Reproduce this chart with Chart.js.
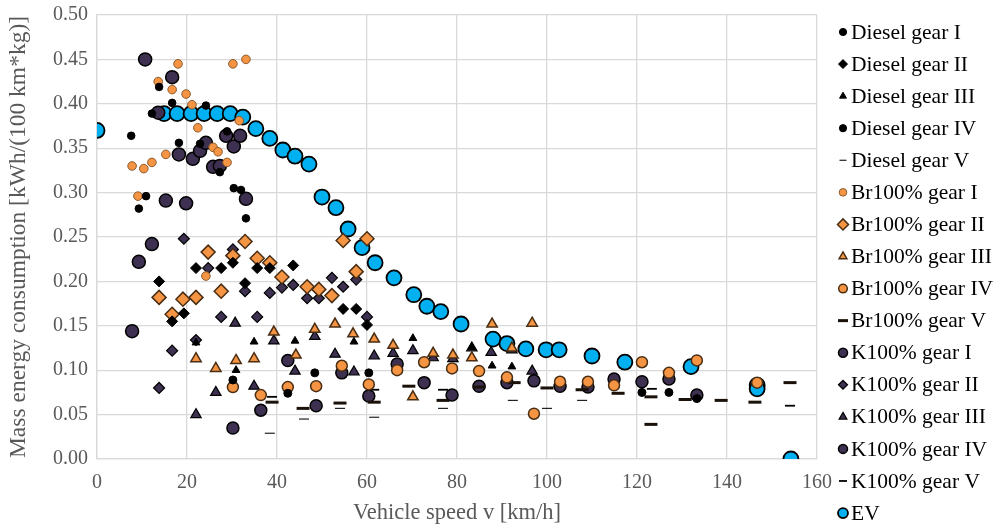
<!DOCTYPE html>
<html>
<head>
<meta charset="utf-8">
<script src="https://cdn.jsdelivr.net/npm/chart.js@4.4.1/dist/chart.umd.min.js"></script>
<style>
  html, body { margin: 0; padding: 0; background: #fff; }
  #wrap { width: 1001px; height: 529px; }
</style>
</head>
<body>
<div id="wrap"><canvas id="energyChart" width="1001" height="529"></canvas></div>
<script>
// speed [km/h] and mass energy consumption [kWh/(100 km*kg)] per series
const dieselG1Speed = [7.6, 9.3, 10.9, 12.2, 13.8, 16.7, 18.2, 22.9, 24.2, 27.3, 28.9, 30.4, 32.0, 33.1];
const dieselG1Cons  = [0.364, 0.282, 0.296, 0.389, 0.419, 0.401, 0.356, 0.355, 0.398, 0.323, 0.369, 0.305, 0.303, 0.271];

const dieselG2Speed = [13.8, 16.7, 19.3, 22.0, 27.6, 30.2, 32.9, 35.6, 38.4, 43.6, 54.7, 57.6, 60.0];
const dieselG2Cons  = [0.200, 0.155, 0.164, 0.215, 0.215, 0.221, 0.198, 0.215, 0.215, 0.218, 0.169, 0.169, 0.151];

const dieselG3Speed = [22.0, 30.9, 34.9, 44.0, 57.1, 70.2, 83.3, 87.8, 92.2];
const dieselG3Cons  = [0.131, 0.100, 0.132, 0.133, 0.132, 0.136, 0.126, 0.105, 0.104];

const dieselG4Speed = [30.2, 42.4, 48.4, 60.4, 121.1, 127.1, 133.3];
const dieselG4Cons  = [0.089, 0.074, 0.097, 0.097, 0.075, 0.075, 0.068];

const dieselG5Speed = [38.4, 46.0, 54.0, 61.6, 76.9, 92.4, 100.0, 107.8];
const dieselG5Cons  = [0.029, 0.045, 0.057, 0.047, 0.057, 0.066, 0.057, 0.066];

const brG1Speed = [7.8, 9.1, 10.4, 12.2, 13.6, 15.3, 16.7, 18.0, 19.8, 21.1, 22.4, 24.2, 25.8, 26.9, 28.9, 30.2, 31.6, 33.1];
const brG1Cons  = [0.330, 0.296, 0.327, 0.334, 0.425, 0.343, 0.416, 0.445, 0.411, 0.399, 0.373, 0.206, 0.351, 0.346, 0.334, 0.445, 0.381, 0.450];

const brG2Speed = [13.8, 16.7, 19.1, 22.0, 24.7, 27.6, 30.2, 32.9, 35.6, 38.4, 41.1, 46.7, 49.3, 52.2, 54.7, 57.6, 60.0];
const brG2Cons  = [0.182, 0.163, 0.180, 0.182, 0.233, 0.189, 0.229, 0.245, 0.226, 0.221, 0.205, 0.194, 0.191, 0.184, 0.246, 0.211, 0.248];

const brG3Speed = [22.0, 26.4, 30.9, 34.9, 39.3, 44.2, 48.4, 52.9, 56.9, 61.6, 65.8, 70.2, 74.7, 79.1, 83.3, 87.8, 92.2, 96.7];
const brG3Cons  = [0.113, 0.102, 0.111, 0.113, 0.143, 0.117, 0.146, 0.152, 0.141, 0.135, 0.128, 0.070, 0.119, 0.117, 0.114, 0.152, 0.125, 0.153];

const brG4Speed = [30.2, 36.4, 42.4, 48.7, 54.4, 60.4, 66.7, 72.7, 78.9, 84.9, 91.1, 97.1, 102.9, 109.1, 114.9, 121.1, 127.1, 133.3, 146.7];
const brG4Cons  = [0.081, 0.072, 0.081, 0.082, 0.105, 0.084, 0.100, 0.109, 0.102, 0.099, 0.092, 0.051, 0.087, 0.087, 0.083, 0.109, 0.097, 0.111, 0.086];

const brG5Speed = [38.9, 45.8, 54.0, 61.6, 69.3, 76.9, 84.9, 92.7, 100.0, 107.8, 115.8, 123.1, 123.1, 130.7, 138.7, 146.2, 154.0];
const brG5Cons  = [0.064, 0.057, 0.063, 0.064, 0.082, 0.066, 0.081, 0.086, 0.080, 0.078, 0.074, 0.070, 0.039, 0.067, 0.066, 0.064, 0.086];

const kG1Speed = [7.8, 9.3, 10.7, 12.2, 13.6, 15.3, 16.7, 18.2, 19.8, 21.3, 22.9, 24.2, 25.8, 27.3, 28.7, 30.4, 31.8, 33.1];
const kG1Cons  = [0.144, 0.222, 0.450, 0.242, 0.390, 0.291, 0.430, 0.343, 0.288, 0.338, 0.347, 0.356, 0.329, 0.330, 0.364, 0.352, 0.364, 0.293];

const kG2Speed = [13.8, 16.7, 19.3, 22.0, 24.7, 27.6, 30.2, 32.9, 35.6, 38.4, 41.1, 43.6, 46.7, 49.3, 52.2, 54.7, 57.6, 60.0];
const kG2Cons  = [0.080, 0.122, 0.248, 0.134, 0.215, 0.160, 0.236, 0.189, 0.160, 0.187, 0.193, 0.196, 0.181, 0.181, 0.204, 0.194, 0.202, 0.160];

const kG3Speed = [22.0, 26.4, 30.7, 34.9, 39.3, 44.0, 48.4, 52.9, 57.1, 61.6, 65.8, 70.2, 74.7, 79.1, 83.3, 87.6, 92.2, 96.7];
const kG3Cons  = [0.050, 0.075, 0.153, 0.082, 0.133, 0.099, 0.138, 0.118, 0.098, 0.116, 0.119, 0.122, 0.114, 0.113, 0.125, 0.120, 0.123, 0.099];

const kG4Speed = [30.2, 36.4, 42.4, 48.7, 54.4, 60.4, 66.7, 72.7, 78.9, 84.9, 91.1, 97.1, 102.9, 109.1, 114.9, 121.1, 127.1, 133.3];
const kG4Cons  = [0.035, 0.055, 0.111, 0.060, 0.097, 0.071, 0.107, 0.086, 0.072, 0.082, 0.086, 0.088, 0.082, 0.081, 0.090, 0.087, 0.090, 0.072];

const kG5Speed = [38.9, 61.6, 76.9, 123.3, 154.0];
const kG5Cons  = [0.070, 0.078, 0.078, 0.079, 0.060];

const evSpeed = [0, 14.9, 17.8, 20.9, 23.8, 26.7, 29.6, 32.4, 35.3, 38.4, 41.3, 44.0, 47.1, 50.0, 53.1, 55.8, 58.9, 61.8,
                 66.0, 70.4, 73.3, 76.4, 80.9, 88.0, 91.1, 95.3, 99.8, 102.7, 110.0, 117.3, 132.0, 146.7, 146.7, 154.2];
const evCons  = [0.370, 0.389, 0.389, 0.389, 0.389, 0.389, 0.389, 0.385, 0.372, 0.361, 0.348, 0.341, 0.332, 0.295, 0.283, 0.259, 0.238, 0.221,
                 0.204, 0.185, 0.172, 0.166, 0.152, 0.135, 0.130, 0.124, 0.123, 0.123, 0.116, 0.109, 0.104, 0.083, 0.079, 0.000];

const xTicks = [0, 20, 40, 60, 80, 100, 120, 140, 160];

const BLACK = '#000000';
const ORANGE = '#F59443';
const ORANGE_EDGE = '#4a2e14';
const PURPLE = '#3E3050';
const CYAN = '#00B0F0';
const FONT = '"Liberation Serif", "Times New Roman", serif';

function pts(xs, ys) {
  return xs.map((x, i) => ({ x: x, y: ys[i] }));
}

function series(label, xs, ys, style) {
  return Object.assign({
    label: label,
    data: pts(xs, ys),
    showLine: false,
    pointBorderWidth: 1,
    pointRotation: 0
  }, style);
}

const datasets = [
  series('Diesel gear I', dieselG1Speed, dieselG1Cons, { pointStyle: 'circle', pointRadius: 3.8, pointBackgroundColor: BLACK, pointBorderColor: BLACK, legendRadius: 3.6 }),
  series('Diesel gear II', dieselG2Speed, dieselG2Cons, { pointStyle: 'rectRot', pointRadius: 5.5, pointBackgroundColor: BLACK, pointBorderColor: BLACK, legendRadius: 4.5 }),
  series('Diesel gear III', dieselG3Speed, dieselG3Cons, { pointStyle: 'triangle', pointRadius: 4.5, pointBackgroundColor: BLACK, pointBorderColor: BLACK, legendRadius: 4 }),
  series('Diesel gear IV', dieselG4Speed, dieselG4Cons, { pointStyle: 'circle', pointRadius: 4, pointBackgroundColor: BLACK, pointBorderColor: BLACK, legendRadius: 3.6 }),
  series('Diesel gear V', dieselG5Speed, dieselG5Cons, { pointStyle: 'line', pointRadius: 5, pointBorderWidth: 1.2, pointBackgroundColor: BLACK, pointBorderColor: '#222', legendRadius: 3.5 }),
  series('Br100% gear I', brG1Speed, brG1Cons, { pointStyle: 'circle', pointRadius: 4.3, pointBackgroundColor: ORANGE, pointBorderColor: '#8a5a2c', legendRadius: 3.8 }),
  series('Br100% gear II', brG2Speed, brG2Cons, { pointStyle: 'rectRot', pointRadius: 7, pointBorderWidth: 1.5, pointBackgroundColor: ORANGE, pointBorderColor: ORANGE_EDGE, legendRadius: 5.5 }),
  series('Br100% gear III', brG3Speed, brG3Cons, { pointStyle: 'triangle', pointRadius: 6, pointBorderWidth: 1.5, pointBackgroundColor: ORANGE, pointBorderColor: ORANGE_EDGE, legendRadius: 4.5 }),
  series('Br100% gear IV', brG4Speed, brG4Cons, { pointStyle: 'circle', pointRadius: 5.5, pointBorderWidth: 1.5, pointBackgroundColor: ORANGE, pointBorderColor: ORANGE_EDGE, legendRadius: 4.3 }),
  series('Br100% gear V', brG5Speed, brG5Cons, { pointStyle: 'line', pointRadius: 6.5, pointBorderWidth: 3, pointBackgroundColor: BLACK, pointBorderColor: '#1a120a', legendRadius: 5 }),
  series('K100% gear I', kG1Speed, kG1Cons, { pointStyle: 'circle', pointRadius: 6.5, pointBorderWidth: 1.5, pointBackgroundColor: PURPLE, pointBorderColor: BLACK, legendRadius: 4.5 }),
  series('K100% gear II', kG2Speed, kG2Cons, { pointStyle: 'rectRot', pointRadius: 5.5, pointBorderWidth: 1.2, pointBackgroundColor: PURPLE, pointBorderColor: BLACK, legendRadius: 4.5 }),
  series('K100% gear III', kG3Speed, kG3Cons, { pointStyle: 'triangle', pointRadius: 6, pointBorderWidth: 1.2, pointBackgroundColor: PURPLE, pointBorderColor: BLACK, legendRadius: 4.5 }),
  series('K100% gear IV', kG4Speed, kG4Cons, { pointStyle: 'circle', pointRadius: 6, pointBorderWidth: 1.5, pointBackgroundColor: PURPLE, pointBorderColor: BLACK, legendRadius: 4.5 }),
  series('K100% gear V', kG5Speed, kG5Cons, { pointStyle: 'line', pointRadius: 5, pointBorderWidth: 1.8, pointBackgroundColor: BLACK, pointBorderColor: BLACK, legendRadius: 4 }),
  series('EV', evSpeed, evCons, { pointStyle: 'circle', pointRadius: 7.5, pointBorderWidth: 1.8, pointBackgroundColor: CYAN, pointBorderColor: BLACK, legendRadius: 5 })
];

// legend column drawn beside the plot area
const sideLegend = {
  id: 'sideLegend',
  afterDraw(chart) {
    const ctx = chart.ctx;
    const markerX = 843, textX = 851, firstY = 32, step = 32.07;
    ctx.save();
    ctx.font = '21.5px ' + FONT;
    ctx.textBaseline = 'middle';
    ctx.textAlign = 'left';
    chart.data.datasets.forEach((ds, i) => {
      const y = firstY + i * step;
      ctx.fillStyle = ds.pointBackgroundColor;
      ctx.strokeStyle = ds.pointBorderColor;
      ctx.lineWidth = ds.pointBorderWidth;
      Chart.helpers.drawPoint(ctx, {
        pointStyle: ds.pointStyle,
        radius: ds.legendRadius,
        rotation: 0,
        borderWidth: ds.pointBorderWidth
      }, markerX, y);
      ctx.fillStyle = '#000';
      ctx.fillText(ds.label, textX, y + 1);
    });
    ctx.restore();
  }
};

const ctx = document.getElementById('energyChart').getContext('2d');
const energyChart = new Chart(ctx, {
  type: 'scatter',
  data: { datasets: datasets },
  options: {
    responsive: false,
    animation: false,
    layout: { padding: { top: 15, right: 184, bottom: 0, left: 0 } },
    plugins: {
      legend: { display: false },
      tooltip: { enabled: false }
    },
    scales: {
      x: {
        type: 'linear',
        min: 0,
        max: 160,
        afterBuildTicks: (scale) => { scale.ticks = xTicks.map(v => ({ value: v })); },
        afterFit: (scale) => { scale.height = 70; scale.paddingLeft = 0; scale.paddingRight = 0; },
        grid: { color: '#d9d9d9', lineWidth: 1.3, drawTicks: false },
        border: { color: '#d9d9d9', width: 1.3 },
        ticks: { padding: 12, color: '#595959', font: { family: FONT, size: 20 } },
        title: {
          display: true,
          text: 'Vehicle speed v [km/h]',
          color: '#595959',
          font: { family: FONT, size: 22.5 },
          padding: { top: 0, bottom: 2 }
        }
      },
      y: {
        min: 0,
        max: 0.5,
        afterFit: (scale) => { scale.width = 97; scale.paddingTop = 0; scale.paddingBottom = 0; },
        grid: { color: '#d9d9d9', lineWidth: 1.3, drawTicks: false },
        border: { color: '#d9d9d9', width: 1.3 },
        ticks: {
          stepSize: 0.05,
          padding: 9,
          color: '#595959',
          font: { family: FONT, size: 20 },
          callback: (v) => v.toFixed(2)
        },
        title: {
          display: true,
          text: 'Mass energy consumption [kWh/(100 km*kg)]',
          color: '#595959',
          font: { family: FONT, size: 23.5 },
          padding: { top: 5, bottom: 4 }
        }
      }
    }
  },
  plugins: [sideLegend]
});
</script>
</body>
</html>
